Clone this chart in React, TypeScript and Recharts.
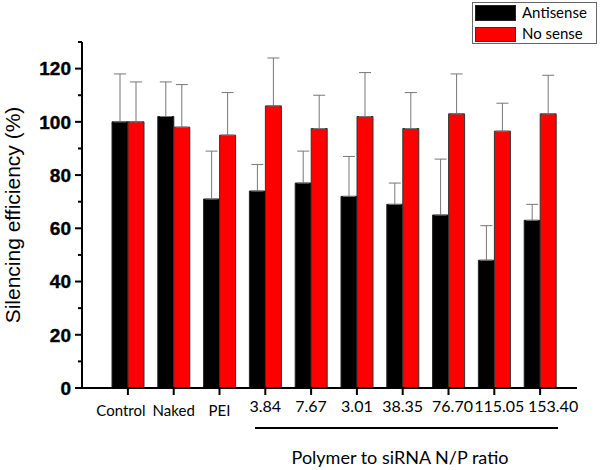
import React from "react";
import { BarChart, Bar, ErrorBar, XAxis, YAxis } from "recharts";

// ── Data ───────────────────────────────────────────────────────────────────

const categories = ["Control", "Naked", "PEI", "3.84", "7.67", "3.01", "38.35", "76.70", "115.05", "153.40"];
const antisense = [100, 102, 71, 74, 77, 72, 69, 65, 48, 63];
const antisenseErr = [18, 13, 18, 10, 12, 15, 8, 21, 13, 6];
const noSense = [100, 98, 95, 106, 97.5, 102, 97.5, 103, 96.5, 103];
const noSenseErr = [15, 16, 16, 18, 12.5, 16.5, 13.5, 15, 10.5, 14.5];
const yTicks = [0, 10, 20, 30, 40, 50, 60, 70, 80, 90, 100, 110, 120, 130];

const data = categories.map((name, i) => ({
  name,
  antisense: antisense[i],
  antisenseErr: [0, antisenseErr[i]],
  noSense: noSense[i],
  noSenseErr: [0, noSenseErr[i]],
}));

const labelFont = "Lato, 'Open Sans', sans-serif";
const axisFont = "'Liberation Sans', Arial, sans-serif";

// ── Y tick: bold labels every 20, minor ticks every 10 ─────────────────────

function YTick(props: any) {
  const { x, y, payload } = props;
  const major = payload.value % 20 === 0;
  return (
    <g>
      <line x1={x} x2={x - (major ? 7 : 4)} y1={y} y2={y} stroke="#000" strokeWidth={2} />
      {major && (
        <text
          x={x - 11}
          y={y}
          dy="0.36em"
          textAnchor="end"
          fontFamily={axisFont}
          fontWeight="bold"
          fontSize={19}
          fill="#000"
          stroke="#000"
          strokeWidth={0.4}
        >
          {payload.value}
        </text>
      )}
    </g>
  );
}

// the original labels drift off their ticks a bit at both ends
const LABEL_NUDGE: Record<number, number> = { 0: -7, 7: 4, 8: 5, 9: 13 };

function XTick(props: any) {
  const { x, y, payload, index } = props;
  const numeric = /^[0-9.]+$/.test(payload.value);
  const dx = LABEL_NUDGE[index] ?? 0;
  return (
    <g>
      <line x1={x} x2={x} y1={y} y2={y + 7} stroke="#000" strokeWidth={2} />
      <text
        x={x + dx}
        y={y + (numeric ? 24 : 28)}
        textAnchor="middle"
        fontFamily={labelFont}
        fontSize={numeric ? 16 : 15}
        fill="#000"
      >
        {payload.value}
      </text>
    </g>
  );
}

export default function App() {
  return (
    <div style={{ position: "absolute", left: 0, top: 0, width: 600, height: 470, background: "#fff" }}>
      <BarChart
        width={600}
        height={470}
        data={data}
        margin={{ top: 42, right: 23, left: 0, bottom: 52 }}
        barSize={16}
        barGap={0}
      >
        <XAxis
          dataKey="name"
          height={30}
          padding={{ left: 23, right: 14 }}
          axisLine={{ stroke: "#000", strokeWidth: 2 }}
          tickLine={false}
          tickSize={0}
          tickMargin={0}
          tick={<XTick />}
          interval={0}
        />
        <YAxis
          width={82}
          domain={[0, 130]}
          ticks={yTicks}
          interval={0}
          axisLine={{ stroke: "#000", strokeWidth: 2 }}
          tickLine={false}
          tickSize={0}
          tickMargin={0}
          tick={<YTick />}
        />
        <Bar dataKey="antisense" fill="#000" stroke="#222" strokeWidth={1} isAnimationActive={false}>
          <ErrorBar dataKey="antisenseErr" direction="y" width={6} stroke="#777" strokeWidth={1} />
        </Bar>
        <Bar dataKey="noSense" fill="#ff0000" stroke="#333" strokeWidth={1} isAnimationActive={false}>
          <ErrorBar dataKey="noSenseErr" direction="y" width={6} stroke="#777" strokeWidth={1} />
        </Bar>
      </BarChart>

      {/* axis title, group bracket and legend */}
      <svg width={600} height={470} style={{ position: "absolute", left: 0, top: 0, pointerEvents: "none" }}>
        <text
          transform="translate(20,215) rotate(-90)"
          textAnchor="middle"
          fontFamily={axisFont}
          fontSize={21}
          fill="#000"
        >
          Silencing efficiency (%)
        </text>
        <line x1={255} x2={558} y1={428} y2={428} stroke="#000" strokeWidth={2} />
        <text x={400} y={464} textAnchor="middle" fontFamily={labelFont} fontSize={18} fill="#000">
          Polymer to siRNA N/P ratio
        </text>

        <rect x={472.5} y={2.5} width={124} height={41} fill="#fff" stroke="#666" strokeWidth={1} />
        <rect x={475.5} y={5.5} width={40} height={15} fill="#000" stroke="#222" />
        <rect x={475.5} y={27.5} width={40} height={14} fill="#ff0000" stroke="#333" />
        <text x={522} y={18} fontFamily={labelFont} fontSize={15} fill="#000">
          Antisense
        </text>
        <text x={522} y={39} fontFamily={labelFont} fontSize={15} fill="#000">
          No sense
        </text>
      </svg>
    </div>
  );
}
